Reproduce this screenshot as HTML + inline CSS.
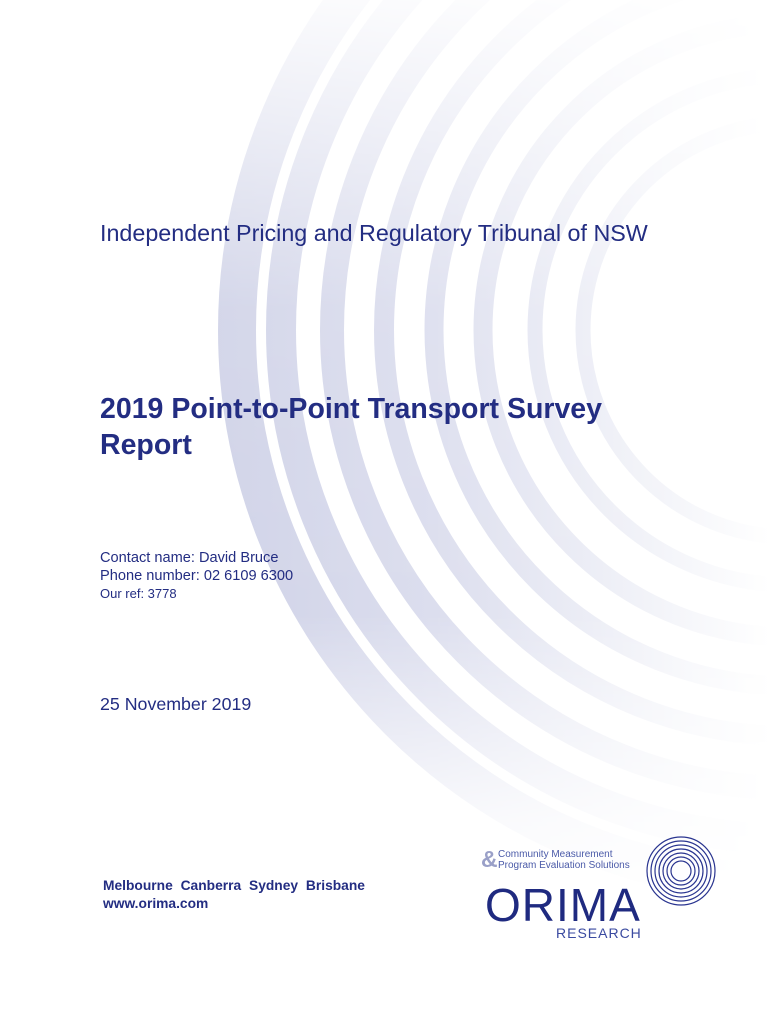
<!DOCTYPE html>
<html><head><meta charset="utf-8"><style>
body{margin:0;width:770px;height:1024px;background:#fff;position:relative;overflow:hidden;font-family:"Liberation Sans",sans-serif;color:#232d82}
.t{position:absolute;white-space:nowrap}
</style></head><body>
<svg width="770" height="1024" style="position:absolute;left:0;top:0">
<defs>
<linearGradient id="g2" gradientUnits="userSpaceOnUse" x1="210" y1="0" x2="770" y2="0">
<stop offset="0" stop-color="#cfd2e7"/>
<stop offset="0.4" stop-color="#dcdeee"/>
<stop offset="0.8" stop-color="#f3f4f9"/>
<stop offset="1" stop-color="#fff"/>
</linearGradient>
<linearGradient id="vm" gradientUnits="userSpaceOnUse" x1="0" y1="0" x2="0" y2="1024">
<stop offset="0" stop-color="#fff" stop-opacity="0.1"/>
<stop offset="0.3" stop-color="#fff" stop-opacity="0.9"/>
<stop offset="0.6" stop-color="#fff" stop-opacity="1"/>
<stop offset="0.8" stop-color="#fff" stop-opacity="0.2"/>
<stop offset="0.9" stop-color="#fff" stop-opacity="0"/>
</linearGradient>
<mask id="m"><rect width="770" height="1024" fill="url(#vm)"/></mask>
</defs>
<g fill="none" stroke="url(#g2)" mask="url(#m)">
<circle cx="790" cy="330" r="553" stroke-width="38"/>
<circle cx="790" cy="330" r="509" stroke-width="30"/>
<circle cx="790" cy="330" r="458" stroke-width="24"/>
<circle cx="790" cy="330" r="406" stroke-width="20"/>
<circle cx="790" cy="330" r="356" stroke-width="19"/>
<circle cx="790" cy="330" r="307" stroke-width="19"/>
<circle cx="790" cy="330" r="255" stroke-width="15"/>
<circle cx="790" cy="330" r="207" stroke-width="15"/>
</g>
<g fill="none" stroke="#2a3590" stroke-width="1.2">
<circle cx="681" cy="871" r="34"/><circle cx="681" cy="871" r="30"/><circle cx="681" cy="871" r="26"/>
<circle cx="681" cy="871" r="22"/><circle cx="681" cy="871" r="18"/><circle cx="681" cy="871" r="14"/>
<circle cx="681" cy="871" r="10"/>
</g>
</svg>
<div class="t" style="left:100px;top:220px;font-size:23.3px">Independent Pricing and Regulatory Tribunal of NSW</div>
<div class="t" style="left:100px;top:391px;font-size:28.5px;font-weight:bold;line-height:36px">2019 Point-to-Point Transport Survey<br>Report</div>
<div class="t" style="left:100px;top:549px;font-size:14.6px;line-height:18px">Contact name: David Bruce<br>Phone number: 02 6109 6300<br><span style="font-size:13px">Our ref: 3778</span></div>
<div class="t" style="left:100px;top:694px;font-size:17.8px">25 November 2019</div>
<div class="t" style="left:103px;top:877px;font-size:13.8px;font-weight:bold;line-height:18px;word-spacing:4px">Melbourne Canberra Sydney Brisbane<br><span style="word-spacing:0">www.orima.com</span></div>
<div class="t" style="left:481px;top:846px;font-size:23px;color:#9aa0c8;font-weight:bold">&amp;</div>
<div class="t" style="left:498px;top:849px;font-size:10px;line-height:11px;color:#4a5aa8">Community Measurement<br>Program Evaluation Solutions</div>
<div class="t" style="left:485px;top:880px;font-size:46px;color:#1f2a80;letter-spacing:1px;line-height:50px">ORIMA</div>
<div class="t" style="left:556px;top:925px;font-size:14px;color:#3a4aa0;letter-spacing:1px">RESEARCH</div>
</body></html>
